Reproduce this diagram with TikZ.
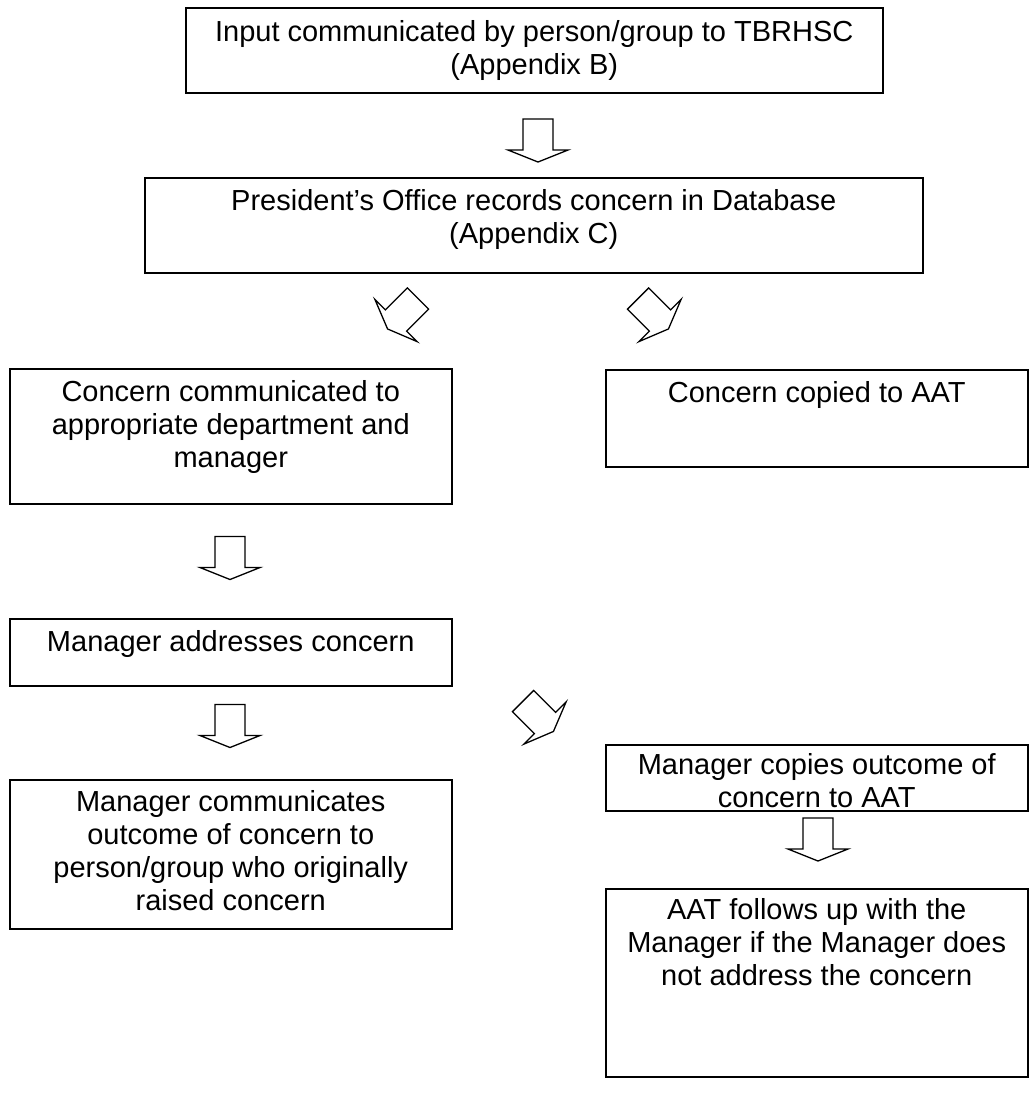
\documentclass[tikz,border=0pt]{standalone}
\usepackage{fontspec}
\setmainfont{Liberation Sans}
\begin{document}
\begin{tikzpicture}[x=1pt,y=-1pt,
  box/.style={draw, line width=1.5pt, inner sep=0pt, anchor=north west},
  txt/.style={anchor=north, inner sep=0pt, align=center, font=\fontsize{29}{33}\selectfont},
  barrow/.pic={\draw[line width=1.3pt, line join=miter]
     (-15,-15.5) -- (15,-15.5) -- (15,15.5) -- (30,15.5) -- (0,27.5)
     -- (-30,15.5) -- (-15,15.5) -- cycle;}]
\useasboundingbox[fill=white] (0,0) rectangle (1036,1114);
% boxes
\node[box, minimum width=697pt, minimum height=85pt]  (b1) at (185,7) {};
\node[box, minimum width=778pt, minimum height=95pt]  (b2) at (144,177) {};
\node[box, minimum width=442pt, minimum height=135pt] (b3) at (9,368) {};
\node[box, minimum width=422pt, minimum height=97pt]  (b3r) at (605,369) {};
\node[box, minimum width=442pt, minimum height=67pt]  (b4) at (9,618) {};
\node[box, minimum width=442pt, minimum height=149pt] (b5) at (9,779) {};
\node[box, minimum width=422pt, minimum height=66pt]  (b6) at (605,744) {};
\node[box, minimum width=422pt, minimum height=188pt] (b7) at (605,888) {};
% texts
\node[txt] (t1) at ([yshift=-11pt]b1.north) {\strut Input communicated by person/group to TBRHSC\\(Appendix B)};
\node[txt] (t2) at ([yshift=-10pt]b2.north) {\strut President’s Office records concern in Database\\(Appendix C)};
\node[txt] (t3) at ([yshift=-10pt]b3.north) {\strut Concern communicated to\\appropriate department and\\manager};
\node[txt] (t3r) at ([yshift=-10pt]b3r.north) {\strut Concern copied to AAT};
\node[txt] (t4) at ([yshift=-10pt]b4.north) {\strut Manager addresses concern};
\node[txt] (t5) at ([yshift=-9pt]b5.north) {\strut Manager communicates\\outcome of concern to\\person/group who originally\\raised concern};
\node[txt] (t6) at ([yshift=-7pt]b6.north) {\strut Manager copies outcome of\\concern to AAT};
\node[txt] (t7) at ([yshift=-8pt]b7.north) {\strut AAT follows up with the\\Manager if the Manager does\\not address the concern};
% block arrows
\pic at (538,134.5) {barrow};
\pic[rotate=-45] at (407,309.5) {barrow};
\pic[rotate=45] at (649,309.5) {barrow};
\pic at (230,552) {barrow};
\pic at (230,720) {barrow};
\pic[rotate=45] at (534,712) {barrow};
\pic at (818,833.5) {barrow};
\end{tikzpicture}
\end{document}
